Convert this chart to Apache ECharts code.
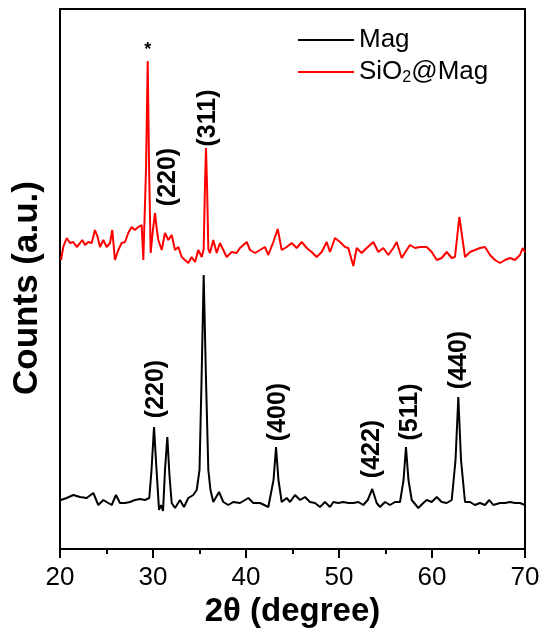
<!DOCTYPE html>
<html>
<head>
<meta charset="UTF-8">
<title>XRD</title>
<style>body{margin:0;background:#fff}</style>
</head>
<body>
<div id="chart" style="width:540px;height:636px"></div>
<script src="https://cdn.jsdelivr.net/npm/echarts@6/dist/echarts.min.js"></script>
<script>
// 2theta (degree) and counts (a.u.)
var magX = [20.08,20.72,21.43,22.15,22.87,23.58,24.12,24.66,25.19,25.56,26.02,26.45,26.99,27.53,28.06,28.60,29.14,29.60,29.84,30.11,30.38,30.65,30.86,31.08,31.29,31.54,31.77,32.01,32.37,32.90,33.33,33.80,34.33,34.70,35.00,35.22,35.45,35.70,35.95,36.18,36.48,37.10,37.56,38.10,38.63,39.35,40.25,40.78,41.51,42.40,42.96,43.23,43.49,43.84,44.38,44.73,45.27,45.81,46.34,46.88,47.42,47.96,48.49,49.03,49.39,49.92,50.46,51.00,51.54,52.08,52.61,53.09,53.58,54.05,54.41,54.95,55.48,56.02,56.56,56.94,57.20,57.47,57.82,58.53,59.06,59.43,59.97,60.51,61.04,61.58,62.12,62.53,62.83,63.12,63.55,64.09,64.62,65.16,65.70,66.16,66.59,67.31,67.85,68.39,68.92,69.46,70.00];
var magY = [49,51,54,52,51,56,44,49,46,44,54,46,46,47,49,50,49,51,79,122,79,39,44,38,79,112,74,46,41,49,42,51,54,59,79,169,274,169,79,59,47,57,47,44,47,46,51,46,46,42,69,102,69,47,51,47,54,49,52,47,46,42,47,42,47,46,47,46,46,47,44,49,60,46,42,47,44,47,47,69,102,69,49,41,46,49,47,52,47,46,49,89,152,89,47,47,44,46,44,49,44,46,46,47,46,46,44];

var sioX = [20.11,20.35,20.72,21.08,21.43,21.80,22.15,22.40,22.69,23.04,23.41,23.76,24.05,24.30,24.66,25.02,25.38,25.62,25.91,26.27,26.63,26.99,27.34,27.71,28.06,28.42,28.78,28.96,29.25,29.43,29.58,29.75,30.00,30.22,30.40,30.57,30.94,31.29,31.65,32.01,32.37,32.72,33.09,33.44,33.80,34.16,34.52,34.87,35.24,35.45,35.58,35.70,35.82,35.95,36.13,36.48,36.85,37.20,37.56,37.92,38.46,38.99,39.35,40.08,40.43,40.97,41.51,42.04,42.40,42.94,43.41,43.84,44.38,44.91,45.45,45.99,46.53,47.06,47.60,48.14,48.68,49.03,49.57,50.11,50.65,51.00,51.54,51.90,52.44,52.98,53.69,54.23,54.76,55.30,55.84,56.20,56.74,57.28,57.63,58.17,58.71,59.43,59.97,60.51,61.04,61.58,62.12,62.47,62.94,63.55,64.09,64.62,65.16,65.70,66.24,66.77,67.31,67.85,68.39,68.92,69.46,69.75,70.00];
var sioY = [289,302,311,306,307,302,306,309,304,307,306,319,312,302,309,302,306,319,289,299,306,307,316,322,319,322,324,289,380,488,380,296,320,336,320,309,299,316,309,314,299,302,292,289,286,292,287,299,292,300,360,401,360,300,296,309,296,306,299,292,297,296,301,307,299,296,299,302,294,307,320,299,302,306,301,307,301,297,292,297,307,297,311,307,302,301,283,301,296,301,307,297,301,294,301,307,291,299,304,301,302,302,297,289,291,297,291,292,332,292,297,299,301,302,294,289,286,289,291,289,294,301,297];

var xTicks = [20, 30, 40, 50, 60, 70];
var seriesNames = ['Mag', 'SiO2@Mag'];

// peak labels: text, 2theta, height
var magPeakText = ['(220)', '(400)', '(422)', '(511)', '(440)'];
var magPeakX = [30.32, 43.44, 53.6, 57.63, 62.9];
var magPeakY = [160, 137, 100, 137, 189];
var sioPeakText = ['(220)', '(311)'];
var sioPeakX = [31.67, 35.91];
var sioPeakY = [372, 431];
var starX = 29.43, starY = 499;

function pairs(xs, ys) {
	var out = [];
	for (var i = 0; i < xs.length; i++) out.push([xs[i], ys[i]]);
	return out;
}
function marks(txt, xs, ys) {
	var out = [];
	for (var i = 0; i < txt.length; i++) {
		out.push({ coord: [xs[i], ys[i]], value: txt[i] });
	}
	return out;
}

var peakLabel = {
	show: true,
	position: 'inside',
	rotate: 90,
	color: '#000',
	fontSize: 25,
	fontWeight: 'bold',
	fontFamily: 'Liberation Sans, Arial, sans-serif',
	formatter: function (p) { return p.value; }
};

var chart = echarts.init(document.getElementById('chart'));
var option = {
	animation: false,
	textStyle: { fontFamily: 'Liberation Sans, Arial, sans-serif' },
	grid: {
		left: 60, right: 15, top: 9, bottom: 87,
		outerBoundsMode: 'none',
		containLabel: false,
		show: true, borderColor: '#000', borderWidth: 2
	},
	legend: {
		orient: 'vertical',
		left: 293,
		top: 22,
		itemGap: 6,
		itemWidth: 56,
		itemHeight: 2,
		icon: 'rect',
		data: seriesNames,
		textStyle: {
			fontSize: 26, color: '#000',
			rich: {
				sub: { fontSize: 16, color: '#000', padding: [12, 0, 0, 0] }
			}
		},
		formatter: function (n) {
			return n === 'SiO2@Mag' ? 'SiO{sub|2}@Mag' : n;
		}
	},
	xAxis: {
		type: 'value',
		min: 20, max: 70, interval: 10,
		name: '2θ (degree)',
		nameLocation: 'middle',
		nameGap: 45,
		nameTextStyle: { fontSize: 33, fontWeight: 'bold', color: '#000' },
		axisLine: { lineStyle: { color: '#000', width: 2 } },
		axisTick: { inside: false, length: 9, lineStyle: { color: '#000', width: 2 } },
		minorTick: { show: true, splitNumber: 2, length: 5, lineStyle: { color: '#000', width: 2 } },
		axisLabel: {
			fontSize: 26, color: '#000', margin: 16,
			formatter: function (v) { return xTicks.indexOf(v) >= 0 ? String(v) : ''; }
		},
		splitLine: { show: false }
	},
	yAxis: {
		type: 'value',
		min: 0, max: 540,
		name: 'Counts (a.u.)',
		nameLocation: 'middle',
		nameGap: 15,
		nameTextStyle: { fontSize: 35, fontWeight: 'bold', color: '#000', padding: [0, 18, 0, 0] },
		axisLine: { show: true, lineStyle: { color: '#000', width: 2 } },
		axisTick: { show: false },
		axisLabel: { show: false },
		splitLine: { show: false }
	},
	series: [{
		name: 'Mag',
		type: 'line',
		data: pairs(magX, magY),
		showSymbol: false,
		color: '#000',
		lineStyle: { color: '#000', width: 2 },
		markPoint: {
			symbol: 'circle', symbolSize: 0,
			label: peakLabel,
			data: marks(magPeakText, magPeakX, magPeakY)
		}
	}, {
		name: 'SiO2@Mag',
		type: 'line',
		data: pairs(sioX, sioY),
		showSymbol: false,
		color: '#ff0000',
		lineStyle: { color: '#ff0000', width: 2 },
		markPoint: {
			symbol: 'circle', symbolSize: 0,
			label: peakLabel,
			data: marks(sioPeakText, sioPeakX, sioPeakY).concat([{
				coord: [starX, starY], value: '*',
				label: { show: true, position: 'inside', rotate: 0, fontSize: 18, fontWeight: 'bold', color: '#000', formatter: '*' }
			}])
		}
	}]
};
chart.setOption(option);
</script>
</body>
</html>
